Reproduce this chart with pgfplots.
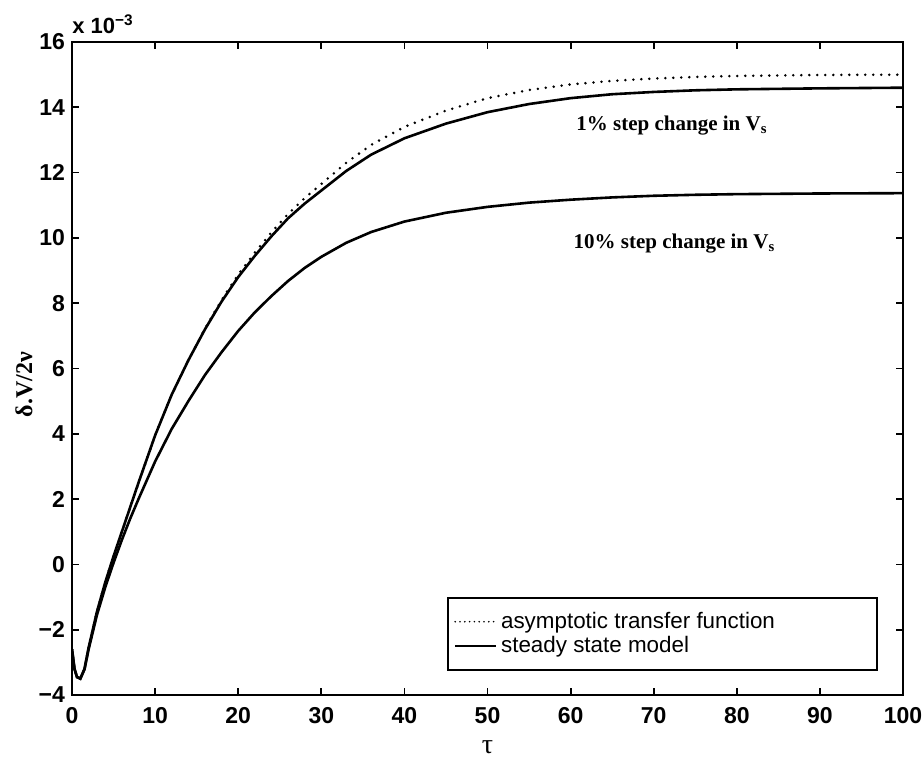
\documentclass[border=0pt]{standalone}
\usepackage{fontspec}
\setmainfont{Liberation Serif}
\newfontfamily\hel{Liberation Sans}
\usepackage{pgfplots}
\pgfplotsset{compat=1.18}

\begin{document}
\begin{tikzpicture}
\begin{axis}[
  name=ax,
  scale only axis, width=415.5pt, height=326.5pt,
  xmin=0, xmax=100, ymin=-4, ymax=16,
  xtick={0,10,...,100}, ytick={-4,-2,...,16},
  yticklabels={−4,−2,0,2,4,6,8,10,12,14,16},
  tick align=inside, major tick length=3.5pt,
  axis line style={line width=1.2pt},
  every tick/.style={line width=0.9pt, black},
  /pgf/number format/assume math mode=true,
  tick label style={font=\hel\bfseries\fontsize{11.5}{12}\selectfont},
  xticklabel style={yshift=-2.5pt},
  xlabel={τ}, ylabel={\bfseries δ.V/2ν},
  xlabel style={at={(axis description cs:0.5,-0.08)}, anchor=center, font=\fontsize{14}{14}\selectfont},
  ylabel style={at={(axis description cs:-0.058,0.475)}, anchor=center, font=\fontsize{12}{12}\selectfont},
  legend style={at={(0.97,0.15)}, anchor=north east, draw=black, line width=1pt,
    font=\hel\fontsize{11.2}{11.5}\selectfont, inner xsep=3pt, inner ysep=5pt,
    row sep=-1.5pt, cells={anchor=west}},
  legend image code/.code={\draw[#1, line width=0.9pt] (0cm,0cm) -- (0.72cm,0cm);},
]
\addplot[black, line width=1.4pt, line cap=round, dash pattern=on 0pt off 4pt,
  legend image post style={dash pattern=on 0pt off 2.4pt, line width=1pt}] coordinates {
  (0,-2.6)(0.3,-3.2)(0.6,-3.45)(1,-3.5)(1.5,-3.2)(2,-2.55)(3,-1.45)(4,-0.55)
  (5,0.25)(6,1.0)(7,1.75)(8,2.5)(10,3.95)(12,5.2)(14,6.25)(16,7.22)(18,8.1)
  (20,8.88)(22,9.55)(24,10.17)(26,10.73)(28,11.22)(30,11.65)(33,12.3)(36,12.85)
  (40,13.4)(45,13.9)(50,14.28)(55,14.53)(60,14.7)(65,14.81)(70,14.88)(75,14.93)
  (80,14.96)(90,14.99)(100,15.0)
};
\addlegendentry{\makebox[183pt][l]{asymptotic transfer function}}
\addplot[black, line width=1.3pt] coordinates {
  (0,-2.6)(0.3,-3.2)(0.6,-3.45)(1,-3.5)(1.5,-3.2)(2,-2.55)(3,-1.45)(4,-0.55)
  (5,0.25)(6,1.0)(7,1.75)(8,2.5)(10,3.95)(12,5.2)(14,6.25)(16,7.2)(18,8.05)
  (20,8.8)(22,9.45)(24,10.05)(26,10.6)(28,11.05)(30,11.45)(33,12.05)(36,12.55)
  (40,13.05)(45,13.5)(50,13.85)(55,14.1)(60,14.28)(65,14.4)(70,14.47)(75,14.52)
  (80,14.55)(90,14.58)(100,14.6)
};
\addlegendentry{steady state model}
\addplot[black, line width=1.3pt, forget plot] coordinates {
  (0,-2.6)(0.3,-3.2)(0.6,-3.45)(1,-3.5)(1.5,-3.22)(2,-2.6)(3,-1.55)(4,-0.7)
  (5,0.05)(6,0.75)(7,1.4)(8,2.0)(10,3.15)(12,4.15)(14,5.0)(16,5.8)(18,6.5)
  (20,7.15)(22,7.72)(24,8.22)(26,8.68)(28,9.08)(30,9.42)(33,9.85)(36,10.18)
  (40,10.5)(45,10.77)(50,10.95)(55,11.08)(60,11.17)(65,11.24)(70,11.29)(75,11.32)
  (80,11.34)(90,11.36)(100,11.37)
};
\node[font=\bfseries\fontsize{10.5}{12}\selectfont] at (axis cs:72.2,13.45) {1\% step change in V\textsubscript{s}};
\node[font=\bfseries\fontsize{10.5}{12}\selectfont] at (axis cs:72.5,9.84) {10\% step change in V\textsubscript{s}};
\end{axis}
\node[anchor=south west, inner sep=0pt, font=\hel\bfseries\fontsize{11}{12}\selectfont]
  at ([yshift=4pt]ax.north west) {x 10\textsuperscript{−3}};
\pgfresetboundingbox
\path[use as bounding box] ([xshift=-36pt,yshift=-32pt]ax.south west) rectangle ([xshift=10.5pt,yshift=21pt]ax.north east);
\end{tikzpicture}
\end{document}
